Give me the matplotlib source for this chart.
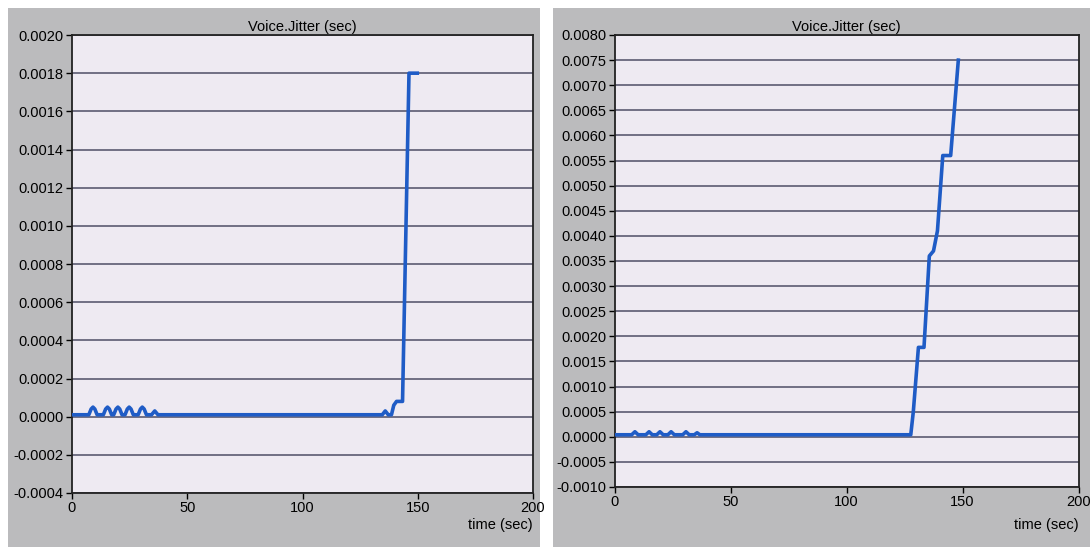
import matplotlib
matplotlib.use("Agg")
import matplotlib.pyplot as plt
from matplotlib.patches import Rectangle
from matplotlib.ticker import FormatStrFormatter

plt.rcParams['font.family'] = ['Liberation Sans', 'DejaVu Sans']

# left chart: jitter over time (sec)
left_t = [0, 7.3, 8.3, 9.1, 9.9, 10.9, 13.6, 14.6, 15.4, 16.2, 17.2, 18.1, 19.1, 19.9,
          20.7, 21.7, 23.0, 24.0, 24.8, 25.6, 26.6, 28.7, 29.7, 30.5, 31.3, 32.3,
          34.5, 35.9, 37.3, 134.6, 135.9, 137.2, 138.6, 139.6, 140.8, 143.4,
          146.2, 149.8]
left_v = [0.00001, 0.00001, 0.00004, 0.00005, 0.00004, 0.00001, 0.00001, 0.00004,
          0.00005, 0.00004, 0.00001, 0.00001, 0.00004, 0.00005, 0.00004, 0.00001,
          0.00001, 0.00004, 0.00005, 0.00004, 0.00001, 0.00001, 0.00004, 0.00005,
          0.00004, 0.00001, 0.00001, 0.00003, 0.00001, 0.00001, 0.00003, 0.00001,
          0.00001, 0.00006, 0.00008, 0.00008, 0.0018, 0.0018]

# right chart
right_t = [0, 7.4, 8.8, 10.2, 13.5, 14.9, 16.3, 18.2, 19.6, 21.0, 23.0, 24.4, 25.8,
           29.4, 30.8, 32.2, 34.4, 35.6, 36.8, 127.7, 128.8, 131.0, 133.4, 135.7,
           137.5, 139.2, 141.5, 144.9, 148.2]
right_v = [0.00004, 0.00004, 0.0001, 0.00004, 0.00004, 0.0001, 0.00004, 0.00004,
           0.0001, 0.00004, 0.00004, 0.0001, 0.00004, 0.00004, 0.0001, 0.00004,
           0.00004, 0.00008, 0.00004, 0.00004, 0.0005, 0.00178, 0.00178, 0.0036,
           0.0037, 0.0041, 0.0056, 0.0056, 0.0075]

left_yticks = [-0.0004 + 0.0002 * i for i in range(13)]
right_yticks = [-0.0010 + 0.0005 * i for i in range(19)]
xticks = [0, 50, 100, 150, 200]

W, H = 1090, 547
fig = plt.figure(figsize=(W / 100, H / 100), dpi=100)
fig.patch.set_facecolor('white')

# grey panel backgrounds
for x0, x1 in [(8, 540), (553, 1090)]:
    fig.patches.append(Rectangle((x0 / W, 0), (x1 - x0) / W, 1 - 8 / H,
                                 transform=fig.transFigure, facecolor='#BBBBBD',
                                 edgecolor='none', zorder=-10))

line_col = '#1F5CC6'
grid_col = '#4E4E66'
face = '#EEEAF2'


def setup(ax, t, v, yticks, ylim, lab_y):
    ax.set_facecolor(face)
    ax.plot(t, v, color=line_col, lw=2.6, solid_joinstyle='round', zorder=3)
    ax.set_xlim(0, 200)
    ax.set_ylim(*ylim)
    ax.set_xticks(xticks)
    ax.set_yticks(yticks)
    ax.yaxis.set_major_formatter(FormatStrFormatter('%.4f'))
    ax.grid(axis='y', color=grid_col, lw=1.1)
    ax.grid(axis='x', visible=False)
    ax.tick_params(axis='both', direction='out', length=4, width=1,
                   labelsize=10.5, colors='black', pad=2)
    for s in ax.spines.values():
        s.set_color('#222222')
        s.set_linewidth(1.3)
    ax.set_title('Voice.Jitter (sec)', fontsize=10.5, pad=3)
    ax.text(1.0, lab_y, 'time (sec)', transform=ax.transAxes, ha='right',
            va='center', fontsize=10.5)


ax1 = fig.add_axes([72 / W, 1 - 493 / H, (533 - 72) / W, (493 - 35) / H])
setup(ax1, left_t, left_v, left_yticks, (-0.0004, 0.0020), -0.07)

ax2 = fig.add_axes([614.5 / W, 1 - 487 / H, (1078.5 - 614.5) / W, (487 - 35) / H])
setup(ax2, right_t, right_v, right_yticks, (-0.0010, 0.0080), -0.084)

fig.savefig('out.png', dpi=100, facecolor=fig.get_facecolor())
